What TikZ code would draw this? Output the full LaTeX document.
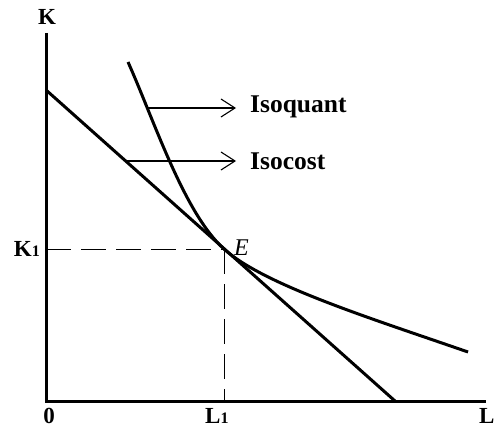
\documentclass[tikz,border=0pt]{standalone}
\usepackage{fontspec}
\setmainfont{Liberation Serif}
\usetikzlibrary{arrows.meta}
\begin{document}
\begin{tikzpicture}[x=1pt,y=-1pt,
  axis/.style={line width=3pt, line join=miter},
  curve/.style={line width=3pt},
  guide/.style={line width=0.9pt, dash pattern=on 25pt off 10pt},
  pointer/.style={line width=1.1pt, -{Straight Barb[length=14pt,width=18pt,line width=1.1pt]}},
  lbl/.style={font=\fontsize{25.5}{25.5}\selectfont\bfseries, inner sep=0pt, anchor=base west},
  axlbl/.style={font=\fontsize{23}{23}\selectfont\bfseries, inner sep=0pt}]
\useasboundingbox (0,0) rectangle (494,427);
% axes
\coordinate (O) at (46,401);
\coordinate (Ktop) at (46,33);
\coordinate (Lend) at (486,401);
\draw[axis] (Ktop) -- (O) -- (Lend);
% isocost
\coordinate (A) at (46,90);
\coordinate (B) at (395,401);
\draw[curve] (A) -- (B);
% tangency point
\coordinate (E) at (224,249);
% isoquant
\coordinate (Q0) at (128,62);
\coordinate (Q1) at (468,352);
\draw[curve] (Q0) .. controls (154,120) and (184,213) .. (E)
  .. controls (264,285) and (370,318) .. (Q1);
% guides
\draw[guide] (O|-E) -- (E);
\draw[guide] (E) -- (E|-O);
% labels
\node[lbl] (isoq) at (250,113) {Isoquant};
\node[lbl] (isoc) at (250,170) {Isocost};
\coordinate (qa) at (146,108);
\coordinate (ca) at (126,161);
\draw[pointer] (qa) -- ([xshift=-14pt]isoq.west |- qa);
\draw[pointer] (ca) -- ([xshift=-14pt]isoc.west |- ca);
\node[axlbl, anchor=base] (K) at (47,25) {K};
\node[axlbl, anchor=base east] (K1) at (40,256) {K{\fontsize{16}{16}\selectfont 1}};
\node[axlbl, anchor=base] (zero) at (49,423) {0};
\node[axlbl, anchor=base west] (L1) at (205,423) {L{\fontsize{16}{16}\selectfont 1}};
\node[axlbl, anchor=base west] (L) at (479,423) {L};
\node[font=\fontsize{24}{24}\selectfont\itshape, inner sep=0pt, anchor=base west] (Elbl) at (234,255) {E};
\end{tikzpicture}
\end{document}
